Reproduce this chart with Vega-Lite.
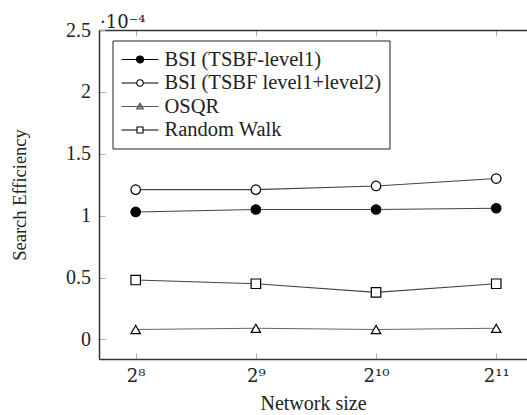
{
  "$schema": "https://vega.github.io/schema/vega-lite/v6.json",
  "autosize": {"type": "none"},
  "padding": {"left": 99, "top": 30, "right": 0, "bottom": 56},
  "width": 428,
  "height": 329,
  "background": "white",
  "title": {"text": "·10⁻⁴", "anchor": "start", "frame": "group", "font": "DejaVu Serif", "fontSize": 18, "fontWeight": "normal", "color": "#222", "offset": -12, "dx": 1},
  "config": {
    "view": {"stroke": null},
    "axis": {"grid": false, "labelFont": "Liberation Serif", "labelFontSize": 20, "labelColor": "#222", "titleFont": "Liberation Serif", "titleFontWeight": "normal", "titleColor": "#222", "domainColor": "#333", "domainWidth": 1.5, "tickColor": "#b0b0b0", "tickSize": -6, "tickWidth": 1}
  },
  "data": {"values": [
    {"series": "BSI (TSBF-level1)", "size": 256, "eff": 0.000103},
    {"series": "BSI (TSBF-level1)", "size": 512, "eff": 0.000105},
    {"series": "BSI (TSBF-level1)", "size": 1024, "eff": 0.000105},
    {"series": "BSI (TSBF-level1)", "size": 2048, "eff": 0.000106},
    {"series": "BSI (TSBF level1+level2)", "size": 256, "eff": 0.000121},
    {"series": "BSI (TSBF level1+level2)", "size": 512, "eff": 0.000121},
    {"series": "BSI (TSBF level1+level2)", "size": 1024, "eff": 0.000124},
    {"series": "BSI (TSBF level1+level2)", "size": 2048, "eff": 0.000130},
    {"series": "OSQR", "size": 256, "eff": 0.000008},
    {"series": "OSQR", "size": 512, "eff": 0.000009},
    {"series": "OSQR", "size": 1024, "eff": 0.000008},
    {"series": "OSQR", "size": 2048, "eff": 0.000009},
    {"series": "Random Walk", "size": 256, "eff": 0.000048},
    {"series": "Random Walk", "size": 512, "eff": 0.000045},
    {"series": "Random Walk", "size": 1024, "eff": 0.000038},
    {"series": "Random Walk", "size": 2048, "eff": 0.000045}
  ]},
  "encoding": {
    "x": {"field": "size", "type": "quantitative", "axis": null, "scale": {"type": "log", "base": 2, "domain": [207.2, 2445.6], "nice": false, "zero": false}},
    "y": {"field": "eff", "type": "quantitative", "scale": {"domain": [-0.0000158, 0.00025], "nice": false, "zero": false},
      "axis": {"title": "Search Efficiency", "titleFontSize": 18.5, "titlePadding": 36, "values": [0, 0.00005, 0.0001, 0.00015, 0.0002, 0.00025], "labelExpr": "format(datum.value*10000, '.2~f')", "labelPadding": 14.5}}
  },
  "layer": [
    {
      "mark": {"type": "line", "strokeWidth": 1.1},
      "encoding": {
        "x": {"field": "size", "type": "quantitative", "axis": {"orient": "bottom", "title": "Network size", "titleFontSize": 20, "titlePadding": 8, "values": [256, 512, 1024, 2048], "labelExpr": "datum.value == 256 ? '2⁸' : datum.value == 512 ? '2⁹' : datum.value == 1024 ? '2¹⁰' : '2¹¹'", "labelFont": "DejaVu Serif", "labelFontSize": 18, "labelPadding": 14}},
        "detail": {"field": "series"},
        "stroke": {"field": "series", "type": "nominal", "legend": null, "scale": {"domain": ["BSI (TSBF-level1)", "BSI (TSBF level1+level2)", "OSQR", "Random Walk"], "range": ["#444", "#444", "#666", "#444"]}}
      }
    },
    {
      "mark": {"type": "point", "filled": false, "stroke": "black", "strokeWidth": 1.2, "opacity": 1, "size": 90},
      "encoding": {
        "shape": {"field": "series", "type": "nominal", "legend": null, "scale": {"domain": ["BSI (TSBF-level1)", "BSI (TSBF level1+level2)", "OSQR", "Random Walk"], "range": ["circle", "circle", "triangle-up", "square"]}},
        "fill": {"field": "series", "type": "nominal", "legend": null, "scale": {"domain": ["BSI (TSBF-level1)", "BSI (TSBF level1+level2)", "OSQR", "Random Walk"], "range": ["black", "white", "white", "white"]}}
      }
    },
    {
      "mark": {"type": "point", "strokeWidth": 1.1, "size": 0, "opacity": 1},
      "encoding": {
        "x": {"field": "size", "type": "quantitative", "axis": {"orient": "top", "title": null, "labels": false, "values": [256, 512, 1024, 2048]}},
        "shape": {"field": "series", "type": "nominal", "scale": {"domain": ["BSI (TSBF-level1)", "BSI (TSBF level1+level2)", "OSQR", "Random Walk"], "range": [
          "M-1,0H0.5M1.2,0H2.7M1.2,0A0.35,0.35,0,1,1,0.5,0A0.35,0.35,0,1,1,1.2,0Z",
          "M-1,0H0.53M1.17,0H2.7M1.17,0A0.32,0.32,0,1,1,0.53,0A0.32,0.32,0,1,1,1.17,0Z",
          "M-1,0H2.7M0.85,-0.34L1.19,0.25L0.51,0.25Z",
          "M-1,0H0.55M1.15,0H2.7M0.55,-0.3H1.15V0.3H0.55Z"
        ]},
          "legend": {"title": null, "orient": "none", "legendX": 13.5, "legendY": 10.5, "padding": 8, "strokeColor": "#222", "fillColor": "white", "cornerRadius": 0, "labelFont": "Liberation Serif", "labelFontSize": 20.5, "labelColor": "#222", "labelOffset": 22, "symbolSize": 400, "symbolStrokeWidth": 1.1, "rowPadding": 1.5, "labelLimit": 400,
            "encode": {"legend": {"update": {"strokeWidth": {"value": 1.3}}}}}},
        "fill": {"field": "series", "type": "nominal", "scale": {"domain": ["BSI (TSBF-level1)", "BSI (TSBF level1+level2)", "OSQR", "Random Walk"], "range": ["black", "white", "#999", "white"]}},
        "stroke": {"field": "series", "type": "nominal", "scale": {"domain": ["BSI (TSBF-level1)", "BSI (TSBF level1+level2)", "OSQR", "Random Walk"], "range": ["black", "black", "#555", "black"]}}
      }
    }
  ],
  "resolve": {"scale": {"shape": "independent", "fill": "independent", "stroke": "independent"}, "axis": {"x": "independent"}}
}
